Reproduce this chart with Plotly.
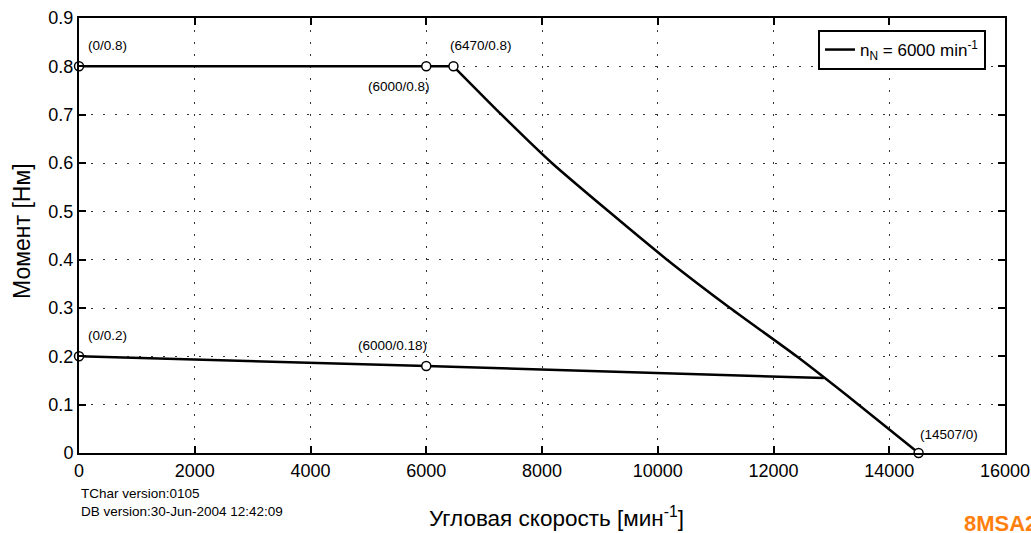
import plotly.graph_objects as go

# flat part of the peak-torque curve
flat_x = [0, 6000, 6470]
flat_y = [0.8, 0.8, 0.8]
# falling part of the peak-torque curve
drop_x = [6470, 7300, 8170, 9150, 10160, 11250, 12400, 13470, 14507]
drop_y = [0.8, 0.7, 0.6, 0.5, 0.4, 0.3, 0.2, 0.1, 0.0]
# lower curve (continuous torque)
lower_x = [0, 6000, 12870]
lower_y = [0.2, 0.18, 0.155]
# marked points
mark_x = [0, 6000, 6470, 14507, 0, 6000]
mark_y = [0.8, 0.8, 0.8, 0.0, 0.2, 0.18]
mark_labels = ["(0/0.8)", "(6000/0.8)", "(6470/0.8)", "(14507/0)", "(0/0.2)", "(6000/0.18)"]
label_pos = ["tr", "bl", "tr2", "tr3", "tr", "tl"]

x_ticks = [0, 2000, 4000, 6000, 8000, 10000, 12000, 14000, 16000]
y_ticks = [0, 0.1, 0.2, 0.3, 0.4, 0.5, 0.6, 0.7, 0.8, 0.9]

font_family = "Liberation Sans, Arial, sans-serif"
L, R, T, B, W, H = 79, 26, 18, 80, 1031, 533
PW, PH = W - L - R, H - T - B


def px_x(px):
    return (px - L) / PW


def px_y(py):
    return (H - B - py) / PH


fig = go.Figure()
fig.add_trace(go.Scatter(x=flat_x, y=flat_y, mode="lines",
                         line=dict(color="black", width=2.5),
                         name="n<sub>N</sub> = 6000 min<sup>-1</sup>", showlegend=True))
fig.add_trace(go.Scatter(x=drop_x, y=drop_y, mode="lines",
                         line=dict(color="black", width=2.5, shape="spline", smoothing=0.6),
                         showlegend=False))
fig.add_trace(go.Scatter(x=lower_x, y=lower_y, mode="lines",
                         line=dict(color="black", width=2.5), showlegend=False))
fig.add_trace(go.Scatter(x=mark_x, y=mark_y, mode="markers",
                         marker=dict(symbol="circle", size=9, color="white",
                                     line=dict(color="black", width=1.5)),
                         showlegend=False, cliponaxis=False))

for x, y, t, p in zip(mark_x, mark_y, mark_labels, label_pos):
    if p == "tr":
        xs, ys, xa, ya = 7, 11, "left", "bottom"
    elif p == "tr2":
        xs, ys, xa, ya = -5, 11, "left", "bottom"
    elif p == "tr3":
        xs, ys, xa, ya = -1, 9, "left", "bottom"
    elif p == "bl":
        xs, ys, xa, ya = 6, -11, "right", "top"
    else:
        xs, ys, xa, ya = 3, 11, "right", "bottom"
    fig.add_annotation(x=x, y=y, text=t, showarrow=False, xshift=xs, yshift=ys,
                       xanchor=xa, yanchor=ya,
                       font=dict(size=13.5, color="black", family=font_family))

fig.add_annotation(xref="paper", yref="paper", x=0.0, y=-0.072, xanchor="left", yanchor="top",
                   text="TChar version:0105<br>DB version:30-Jun-2004 12:42:09",
                   showarrow=False, align="left",
                   font=dict(size=13.5, color="black", family=font_family))
fig.add_annotation(xref="paper", yref="paper", x=px_x(962), y=px_y(523),
                   xanchor="left", yanchor="middle", text="<b>8MSA2</b>", showarrow=False,
                   font=dict(size=22, color="#ff7f0e", family=font_family))

# axis titles
fig.add_annotation(xref="paper", yref="paper", x=px_x(556), y=px_y(517),
                   xanchor="center", yanchor="middle",
                   text="Угловая скорость [мин<sup>-1</sup>]", showarrow=False,
                   font=dict(size=22.5, color="black", family=font_family))
fig.add_annotation(xref="paper", yref="paper", x=px_x(22), y=px_y(231),
                   xanchor="center", yanchor="middle", textangle=-90,
                   text="Момент [Нм]", showarrow=False,
                   font=dict(size=23, color="black", family=font_family))

axis_common = dict(showline=True, linecolor="black", linewidth=2, mirror="ticks",
                   ticks="inside", ticklen=7, tickwidth=1.5, tickcolor="black",
                   showgrid=True, gridcolor="#333", gridwidth=1, griddash="2px,10px",
                   zeroline=False, automargin=False,
                   tickfont=dict(size=18, color="black", family=font_family))

fig.update_xaxes(range=[0, 16000], tickvals=x_ticks, ticktext=[str(v) for v in x_ticks],
                 **axis_common)
fig.update_yaxes(range=[0, 0.9], tickvals=y_ticks, ticktext=[("0" if v == 0 else f"{v:g}") for v in y_ticks],
                 **axis_common)

fig.update_layout(width=W, height=H, plot_bgcolor="white", paper_bgcolor="white",
                  margin=dict(l=L, r=R, t=T, b=B),
                  legend=dict(x=px_x(818), y=px_y(30), xanchor="left", yanchor="top",
                              bordercolor="black", borderwidth=2, bgcolor="white",
                              font=dict(size=17, color="black", family=font_family)),
                  font=dict(family=font_family))

fig.write_html("out.html")
